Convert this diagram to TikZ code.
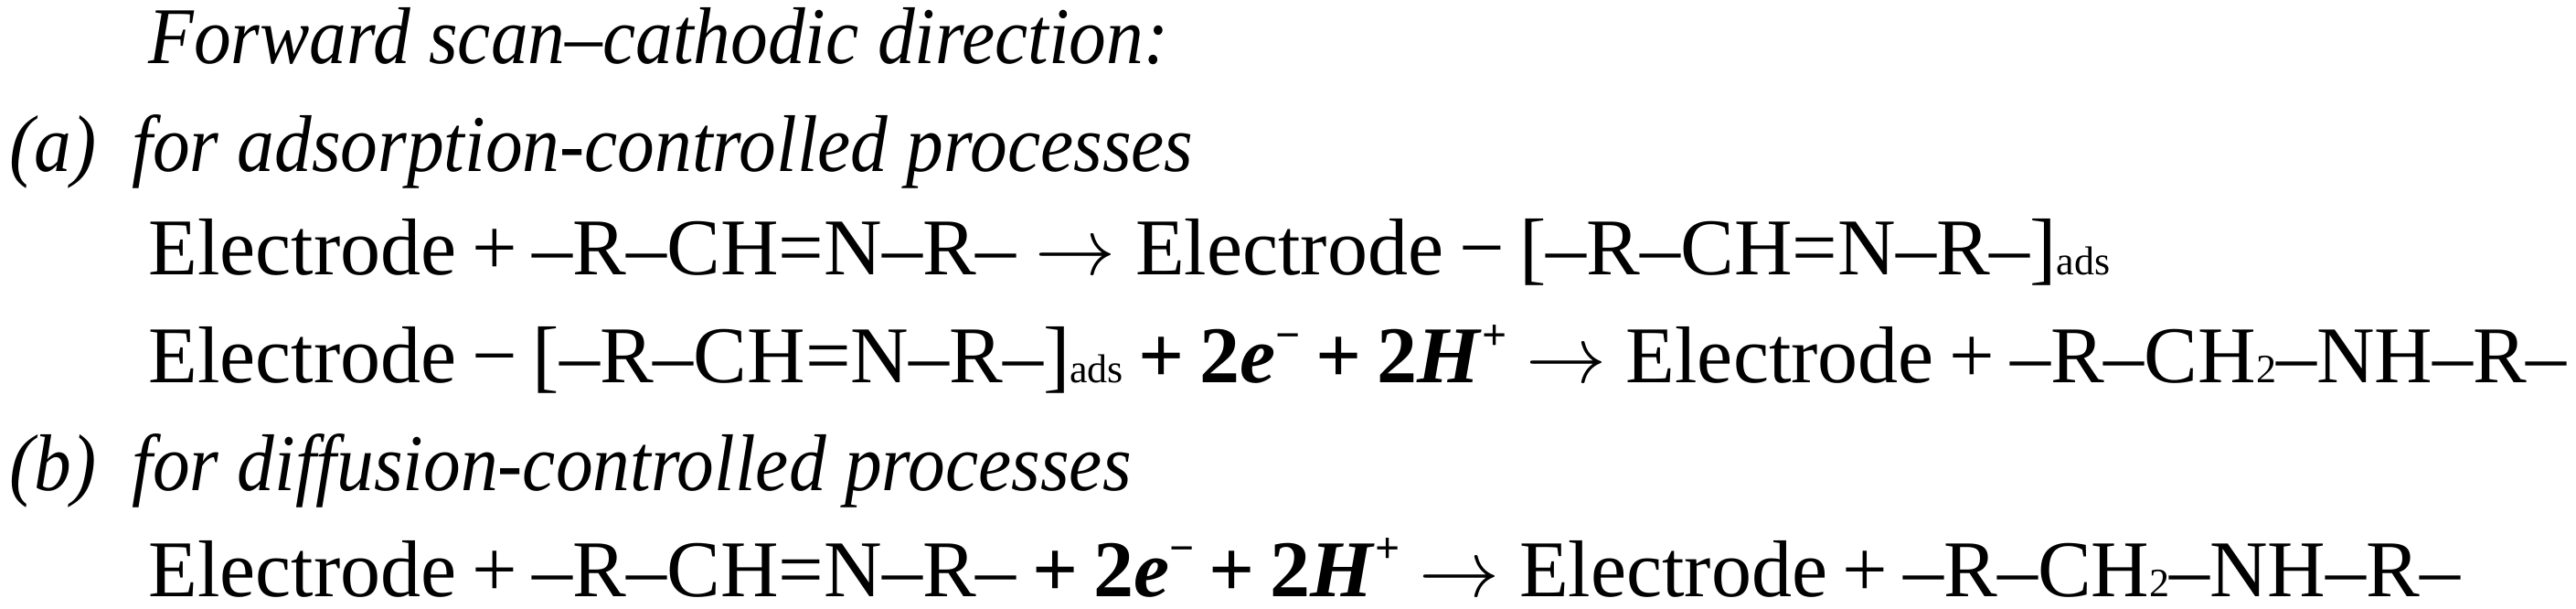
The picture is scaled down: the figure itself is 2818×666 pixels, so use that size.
\documentclass[tikz,border=0pt]{standalone}
\usepackage{fontspec}
\setmainfont{Liberation Serif}
\newfontfamily\headfont{Liberation Serif}[FakeStretch=0.925]
\usetikzlibrary{positioning}

\newcommand{\eqnfont}{\fontsize{12}{14}\selectfont\setlength{\spaceskip}{0.19em}}
\newcommand{\chemsub}[1]{{\fontsize{6}{7}\selectfont #1}}
\newcommand{\chemsup}[1]{\raisebox{0.42em}{\fontsize{6.5}{7}\selectfont #1}}
\newcommand{\eltwo}{\textbf{+ 2\textit{e}}\chemsup{\textbf{−}} \textbf{+ 2\textit{H}}\chemsup{\textbf{+}}}
\newcommand{\yields}{\hspace{0.05em}$\rightarrow$\hspace{0.05em}}

\begin{document}
\begin{tikzpicture}[x=0.004793cm,y=-0.004793cm,
  every node/.style={inner sep=0pt,anchor=base west,font=\fontsize{12}{14}\selectfont},
  head/.style={font=\fontsize{12}{14}\selectfont\headfont\itshape},
  eqn/.style={font=\eqnfont}]
\useasboundingbox (0,0) rectangle (2818,666);

% heading
\node[head] (title) at (161,70) {Forward scan–cathodic direction:};

% (a) adsorption-controlled
\node[head] (labela) at (9,188) {(a)};
\node[head] (casea) at (143,188) {for adsorption-controlled processes};
\node[eqn] (eqa1) at (161,301) {Electrode + –R–CH=N–R– \yields{} Electrode − [–R–CH=N–R–]\chemsub{ads}};
\node[eqn] (eqa2) at (161,419) {Electrode − [–R–CH=N–R–]\chemsub{ads} \eltwo{} \yields{} Electrode + –R–CH\chemsub{2}–NH–R–};

% (b) diffusion-controlled
\node[head] (labelb) at (9,536) {(b)};
\node[head] (caseb) at (143,536) {for diffusion-controlled processes};
\node[eqn] (eqb) at (161,652) {Electrode + –R–CH=N–R– \eltwo{} \yields{} Electrode + –R–CH\chemsub{2}–NH–R–};
\end{tikzpicture}
\end{document}
